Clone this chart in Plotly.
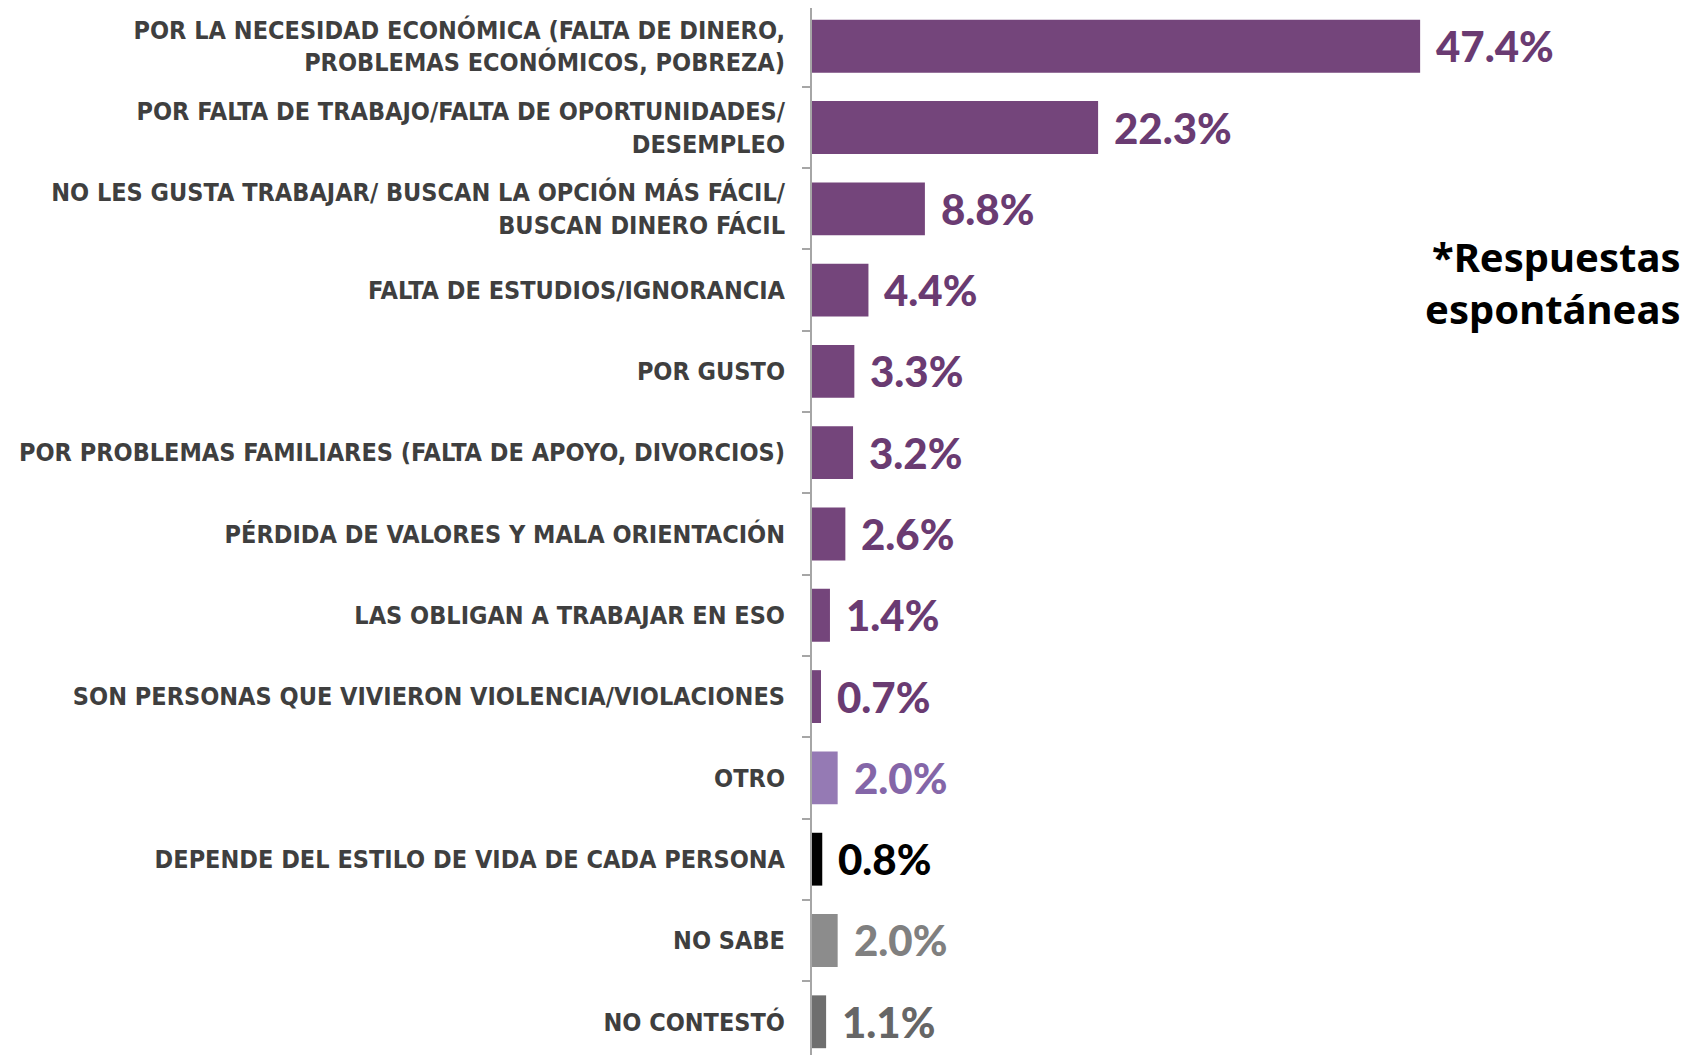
import plotly.graph_objects as go

categories = [
    "POR LA NECESIDAD ECONÓMICA (FALTA DE DINERO,<br>PROBLEMAS ECONÓMICOS, POBREZA)",
    "POR FALTA DE TRABAJO/FALTA DE OPORTUNIDADES/<br>DESEMPLEO",
    "NO LES GUSTA TRABAJAR/ BUSCAN LA OPCIÓN MÁS FÁCIL/<br>BUSCAN DINERO FÁCIL",
    "FALTA DE ESTUDIOS/IGNORANCIA",
    "POR GUSTO",
    "POR PROBLEMAS FAMILIARES (FALTA DE APOYO, DIVORCIOS)",
    "PÉRDIDA DE VALORES Y MALA ORIENTACIÓN",
    "LAS OBLIGAN A TRABAJAR EN ESO",
    "SON PERSONAS QUE VIVIERON VIOLENCIA/VIOLACIONES",
    "OTRO",
    "DEPENDE DEL ESTILO DE VIDA DE CADA PERSONA",
    "NO SABE",
    "NO CONTESTÓ",
]
values = [47.4, 22.3, 8.8, 4.4, 3.3, 3.2, 2.6, 1.4, 0.7, 2.0, 0.8, 2.0, 1.1]
value_labels = ["47.4%", "22.3%", "8.8%", "4.4%", "3.3%", "3.2%", "2.6%",
                "1.4%", "0.7%", "2.0%", "0.8%", "2.0%", "1.1%"]

PURPLE = "#74457B"
bar_colors = [PURPLE] * 9 + ["#957AB4", "#000000", "#8C8C8C", "#6E6E6E"]
text_colors = ["#6A3B72"] * 9 + ["#8466A8", "#000000", "#808080", "#666666"]

fig = go.Figure()
fig.add_trace(go.Bar(
    x=values, y=categories, orientation="h",
    marker=dict(color=bar_colors, line=dict(width=0)),
    hoverinfo="skip",
))

for v, lab, c, col in zip(values, value_labels, categories, text_colors):
    fig.add_annotation(
        x=v, y=c, text=lab, xanchor="left", yanchor="middle",
        xshift=14, showarrow=False,
        font=dict(family="Lato", size=42, color=col, weight=900),
    )

fig.add_annotation(
    text="*Respuestas<br>espontáneas",
    xref="paper", yref="paper", x=1, y=0.74, xanchor="right", yanchor="middle",
    xshift=-30, align="right", showarrow=False,
    font=dict(family="Noto Sans", size=40, color="#000000", weight="bold"),
)

fig.update_layout(
    width=1704, height=1055,
    margin=dict(l=804, r=0, t=0, b=0, autoexpand=False),
    paper_bgcolor="white", plot_bgcolor="white",
    bargap=0.35, showlegend=False,
    xaxis=dict(range=[0, 70.15], visible=False, showgrid=False, zeroline=False,
               automargin=False),
    yaxis=dict(
        type="category", categoryorder="array", categoryarray=categories,
        range=[12.507, -0.47], automargin=False,
        showline=True, linecolor="#A6A6A6", linewidth=2,
        ticks="outside", tickson="boundaries", ticklen=8, tickcolor="#A6A6A6", tickwidth=2,
        ticklabelstandoff=20, showgrid=False, zeroline=False,
        tickfont=dict(family="DejaVu Sans Condensed, sans-serif",
                      size=25, color="#3F3F3F", weight="bold"),
    ),
)

fig.write_html("out.html")
